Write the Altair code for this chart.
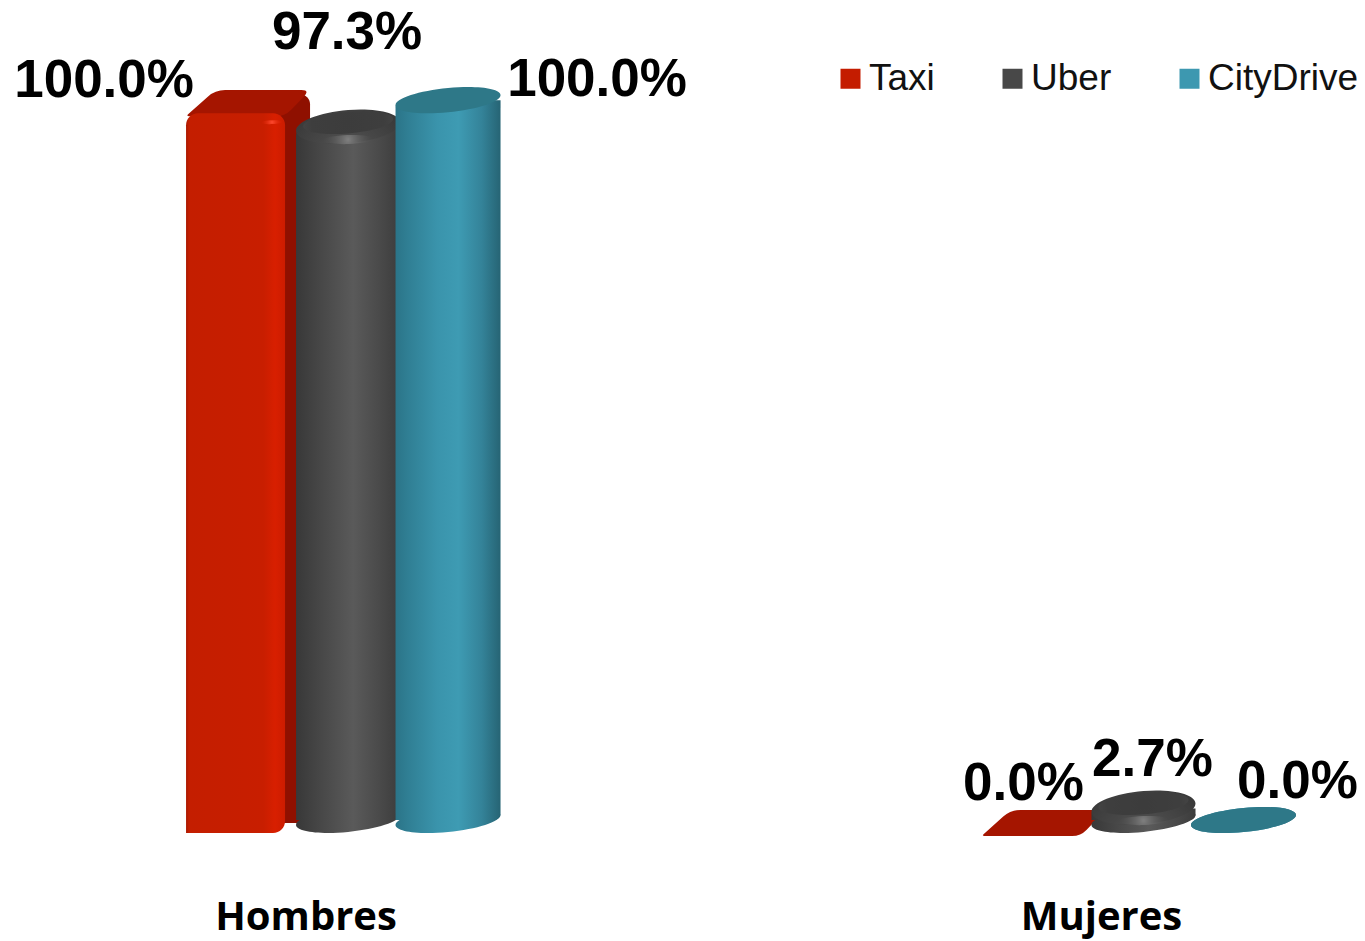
import altair as alt
import pandas as pd

categories = ["Hombres", "Mujeres"]
series = ["Taxi", "Uber", "CityDrive"]
taxi_values = [1.0, 0.0]
uber_values = [0.973, 0.027]
city_values = [1.0, 0.0]

rows = []
for s, vals in zip(series, [taxi_values, uber_values, city_values]):
    for c, v in zip(categories, vals):
        rows.append({"category": c, "series": s, "value": v})
df = pd.DataFrame(rows)

# label placement per (category, series): pixel nudges only
NUDGE = {
    ("Hombres", "Taxi"): (-144, -19),
    ("Hombres", "Uber"): (-1, -87),
    ("Hombres", "CityDrive"): (149, -20),
    ("Mujeres", "Taxi"): (-20, -36),
    ("Mujeres", "Uber"): (9, -41),
    ("Mujeres", "CityDrive"): (54, -38),
}

W, H = 1349, 812
X = alt.X("category:N", sort=categories, title=None,
          scale=alt.Scale(paddingInner=0.6229, paddingOuter=0.1594, align=0.7495),
          axis=alt.Axis(labelAngle=0, domain=False, ticks=False, grid=False, labelLimit=500,
                        labelFont="Open Sans", labelFontWeight="bold", labelFontSize=40,
                        labelColor="#000000", labelPadding=77, labelOffset=-42))
XO = alt.XOffset("series:N", sort=series, scale=alt.Scale(domain=series, paddingInner=0, paddingOuter=0))
Y = alt.Y("value:Q", stack=None, title=None, axis=None, scale=alt.Scale(domain=[0, 1.128], nice=False))
FOOT = alt.Y2(datum=0)


def grad(stops, horizontal=True):
    n = [alt.GradientStop(color=c, offset=o) for o, c in stops]
    if horizontal:
        return alt.LinearGradient(gradient="linear", stops=n, x1=0, x2=1, y1=0, y2=0)
    return alt.LinearGradient(gradient="linear", stops=n, x1=0, x2=0, y1=0, y2=1)


def ellipse(b, slope=0.095):
    k = 0.5523
    def T(cx, cy):
        return f"{cx:.4f},{(-slope*cx + b*cy):.4f}"
    return (f"M{T(1,0)}C{T(1,k)} {T(k,1)} {T(0,1)}C{T(-k,1)} {T(-1,k)} {T(-1,0)}"
            f"C{T(-1,-k)} {T(-k,-1)} {T(0,-1)}C{T(k,-1)} {T(1,-k)} {T(1,0)}Z")


def rounded(points, radii):
    out = []
    n = len(points)
    for i, p in enumerate(points):
        a, b = points[i - 1], points[(i + 1) % n]
        def toward(q):
            d = ((q[0]-p[0])**2 + (q[1]-p[1])**2) ** 0.5
            f = min(radii[i] / d, 0.45)
            return (p[0] + (q[0]-p[0])*f, p[1] + (q[1]-p[1])*f)
        s, e = toward(a), toward(b)
        out.append(("M" if i == 0 else "L") + f"{s[0]:.4f},{s[1]:.4f}Q{p[0]:.4f},{p[1]:.4f} {e[0]:.4f},{e[1]:.4f}")
    return "".join(out) + "Z"


base = alt.Chart(df)


def of(s):
    return base.transform_filter(alt.datum.series == s)


def bar(s, **kw):
    return of(s).transform_filter(alt.datum.value > 0).mark_bar(**kw).encode(x=X, xOffset=XO, y=Y, y2=FOOT)


def taxi_bar(**kw):
    # Taxi's box faces sit off the series slot, so they are placed from the band centre
    return of("Taxi").transform_filter(alt.datum.value > 0).mark_bar(**kw).encode(x=X, y=Y, y2=FOOT)


def point(s, shape, width, fill, **kw):
    return of(s).mark_point(shape=shape, size=width * width, filled=True, fill=fill,
                            opacity=1, strokeWidth=0, **kw).encode(x=X, xOffset=XO, y=Y)


def zero_point(s, shape, width, fill):
    return (of(s).transform_calculate(foot="0")
            .mark_point(shape=shape, size=width * width, filled=True, fill=fill, opacity=1, strokeWidth=0)
            .encode(x=X, xOffset=XO,
                    y=alt.Y("foot:Q", stack=None, title=None, axis=None,
                            scale=alt.Scale(domain=[0, 1.128], nice=False))))


# plain bars carrying the legend, hidden under the shaded ones
legend_layer = base.mark_bar(width=20).encode(
    x=X, xOffset=XO, y=Y,
    color=alt.Color("series:N", sort=series,
                    scale=alt.Scale(domain=series, range=["#c41c00", "#484848", "#3d98b0"]),
                    legend=alt.Legend(orient="none", legendX=824, legendY=52, direction="horizontal",
                                      title=None, symbolType="square", symbolSize=400, padding=0,
                                      symbolStrokeWidth=0, labelFont="Liberation Sans", labelFontSize=37,
                                      labelColor="#111111", labelOffset=0, columnPadding=59, columns=3)))

red_front = grad([(0, "#a81800"), (0.03, "#c41e00"), (0.78, "#c81e00"), (0.9, "#d81f00"), (1, "#cc1c00")])
gray_body = grad([(0, "#383838"), (0.25, "#484848"), (0.55, "#5a5a5a"), (0.8, "#4a4a4a"), (1, "#3c3c3c")])
teal_body = grad([(0, "#2b7488"), (0.12, "#307f94"), (0.4, "#3a94ac"), (0.6, "#3e9bb3"), (0.82, "#348399"), (1, "#266474")])
gray_rim = {"gradient": "radial", "x1": 0.5, "y1": 0.85, "r1": 0, "x2": 0.5, "y2": 0.85, "r2": 0.62,
            "stops": [{"offset": 0, "color": "#5c5c5c"}, {"offset": 0.55, "color": "#474747"},
                      {"offset": 1, "color": "#3a3a3a"}]}
glow = {"gradient": "radial", "stops": [{"offset": 0, "color": "#808080"}, {"offset": 1, "color": "rgba(80,80,80,0)"}]}
red_glow = {"gradient": "radial", "stops": [{"offset": 0, "color": "#ff4a30"}, {"offset": 1, "color": "rgba(216,31,0,0)"}]}
gray_face_fill = {"gradient": "radial", "stops": [{"offset": 0, "color": "#3c3c3c"}, {"offset": 0.8, "color": "#3e3e3e"},
                                                  {"offset": 1, "color": "#434343"}]}

top_shape = rounded([(-1, 0.21), (-0.53, -0.21), (1, -0.21), (0.6, 0.21)], [0.05, 0.16, 0.14, 0.14])
teal_cap = ellipse(0.229)
gray_outer = ellipse(0.32, 0.08)
gray_face = ellipse(0.24, 0.08)
glow_shape = ellipse(0.18, 0.03)

layers = [
    legend_layer,
    # Taxi: box with side, top and front faces
    taxi_bar(width=35, xOffset=-55.5, color="#8f1000", yOffset=-6, y2Offset=3, cornerRadiusTopRight=10),
    point("Taxi", top_shape, 124, "#a51500", yOffset=3),
    taxi_bar(width=99, xOffset=-112.5, color=red_front, yOffset=13, y2Offset=13,
             cornerRadiusTopLeft=12, cornerRadiusTopRight=12, cornerRadiusBottomRight=12),
    of("Taxi").transform_filter(alt.datum.value > 0).mark_point(
        shape=glow_shape, size=22 * 22, filled=True, fill=red_glow, opacity=1, strokeWidth=0,
        xOffset=-76, yOffset=22).encode(x=X, y=Y),
    # Uber: cylinder with bevelled cap
    zero_point("Uber", teal_cap, 104, gray_body),
    bar("Uber", width=104, color=gray_body, yOffset=8, cornerRadiusTopLeft=8, cornerRadiusBottomRight=7),
    point("Uber", gray_outer, 104, gray_rim, yOffset=7),
    point("Uber", gray_face, 90, gray_face_fill, yOffset=3),
    point("Uber", glow_shape, 50, glow, yOffset=20),
    # CityDrive: cylinder
    zero_point("CityDrive", teal_cap, 105, teal_body),
    bar("CityDrive", width=105, color=teal_body, cornerRadiusTopLeft=7, cornerRadiusBottomRight=7),
    point("CityDrive", teal_cap, 105, "#2e7888"),
]

for (c, s), (dx, dy) in NUDGE.items():
    layers.append(
        base.transform_filter((alt.datum.series == s) & (alt.datum.category == c))
        .mark_text(font="Liberation Sans", fontWeight="bold", fontSize=53, color="#000000",
                   dx=dx, dy=dy, baseline="middle", align="center")
        .encode(x=X, xOffset=XO, y=Y, text=alt.Text("value:Q", format=".1%"))
    )

chart = (
    alt.layer(*layers)
    .properties(width=W, height=H, padding={"left": 0, "top": 0, "right": 0, "bottom": 121},
                autosize=alt.AutoSizeParams(type="none"), background="#ffffff")
    .configure_view(stroke=None)
)
chart.save("out.html", embed_options={"renderer": "svg", "actions": False})
